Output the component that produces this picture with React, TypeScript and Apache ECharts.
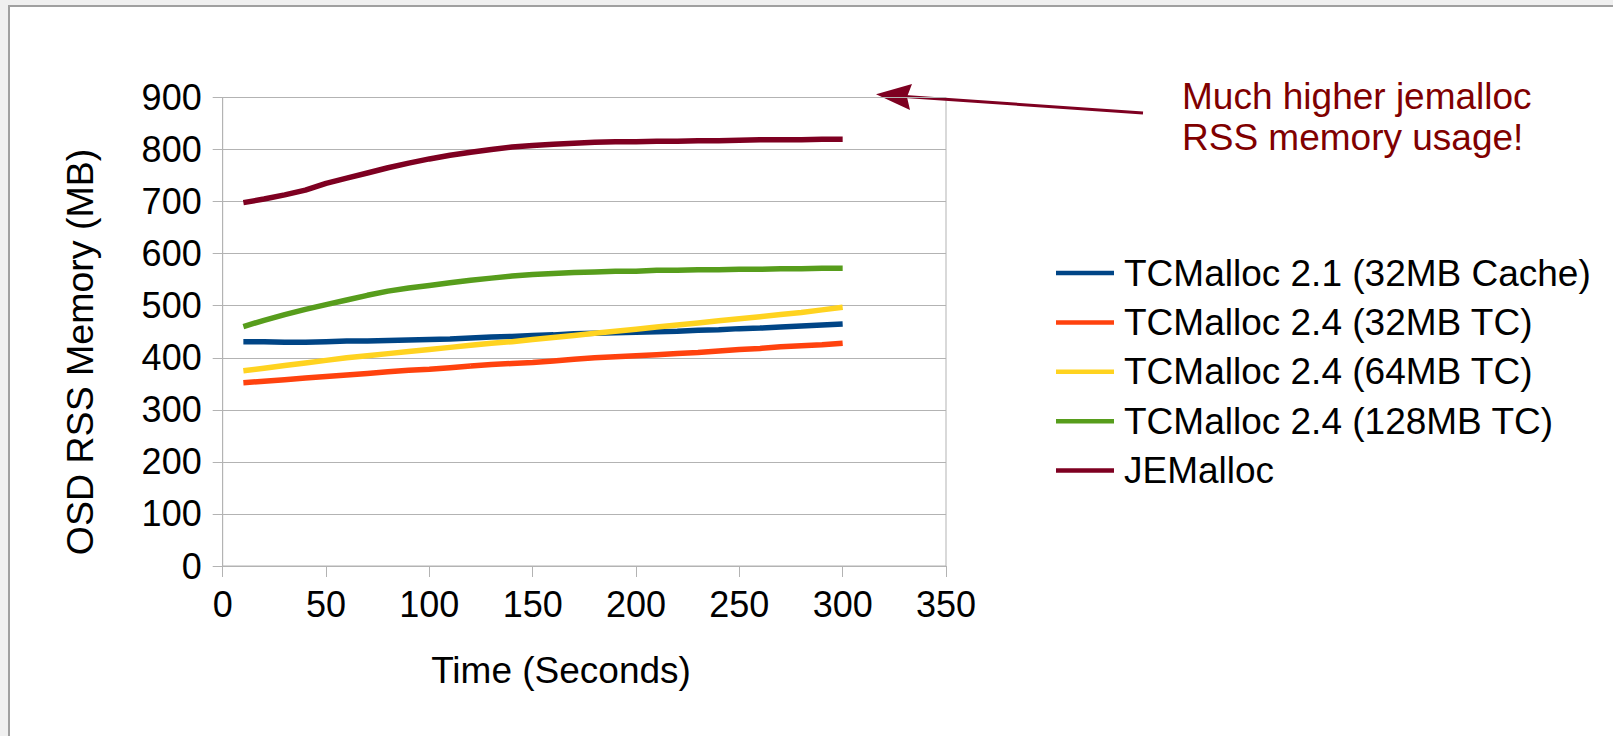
import React, { useEffect, useRef } from "react";
import * as echarts from "echarts";

const timeSeconds = [10, 20, 30, 40, 50, 60, 70, 80, 90, 100, 110, 120, 130, 140, 150, 160, 170, 180, 190, 200, 210, 220, 230, 240, 250, 260, 270, 280, 290, 300];
const tc21_32Cache = [431, 431, 430, 430, 431, 432, 432, 433, 434, 435, 436, 438, 440, 441, 443, 444, 446, 447, 448, 449, 450, 451, 453, 454, 456, 457, 459, 461, 463, 465];
const tc24_32TC = [352, 355, 358, 361, 364, 367, 370, 373, 376, 378, 381, 384, 387, 389, 391, 394, 397, 400, 402, 404, 406, 408, 410, 413, 416, 418, 421, 423, 425, 428];
const tc24_64TC = [375, 380, 385, 390, 395, 400, 404, 408, 412, 416, 420, 424, 428, 431, 435, 439, 443, 447, 451, 455, 459, 463, 467, 471, 475, 479, 483, 487, 492, 497];
const tc24_128TC = [460, 472, 483, 493, 502, 511, 520, 528, 534, 539, 544, 549, 553, 557, 560, 562, 564, 565, 566, 566, 568, 568, 569, 569, 570, 570, 571, 571, 572, 572];
const jemalloc = [698, 705, 713, 722, 735, 745, 755, 765, 774, 782, 789, 795, 800, 805, 808, 810, 812, 814, 815, 815, 816, 816, 817, 817, 818, 819, 819, 819, 820, 820];

const seriesNames = [
  "TCMalloc 2.1 (32MB Cache)",
  "TCMalloc 2.4 (32MB TC)",
  "TCMalloc 2.4 (64MB TC)",
  "TCMalloc 2.4 (128MB TC)",
  "JEMalloc",
];
const seriesValues = [tc21_32Cache, tc24_32TC, tc24_64TC, tc24_128TC, jemalloc];
const seriesColors = ["#004586", "#ff420e", "#ffd320", "#579d1c", "#7e0021"];

const xTicks = { min: 0, max: 350, interval: 50 };
const yTicks = { min: 0, max: 900, interval: 100 };

const FONT = "'Liberation Sans', Arial, sans-serif";

export default function App() {
  const ref = useRef<HTMLDivElement>(null);
  useEffect(() => {
    if (!ref.current) return;
    const chart = echarts.init(ref.current, undefined, { renderer: "svg" });
    const series = seriesNames.map((name, i) => ({
      name,
      type: "line",
      data: timeSeconds.map((t, j) => [t, seriesValues[i][j]]),
      symbol: "none",
      showSymbol: false,
      smooth: false,
      lineStyle: { color: seriesColors[i], width: 5.5 },
      itemStyle: { color: seriesColors[i] },
      z: 3,
    }));
    chart.setOption({
      animation: false,
      backgroundColor: "#f0f0f0",
      textStyle: { fontFamily: FONT },
      grid: {
        left: 222.7,
        top: 97.5,
        right: 667,
        bottom: 170,
        show: true,
        borderColor: "#b3b3b3",
        borderWidth: 1,
        backgroundColor: "transparent",
      },
      xAxis: {
        type: "value",
        min: xTicks.min,
        max: xTicks.max,
        interval: xTicks.interval,
        axisLine: { show: true, lineStyle: { color: "#b3b3b3", width: 1 } },
        axisTick: { show: true, length: 11, lineStyle: { color: "#b3b3b3" } },
        splitLine: { show: false },
        axisLabel: { fontSize: 36, color: "#000", margin: 20, fontFamily: FONT },
      },
      yAxis: {
        type: "value",
        min: yTicks.min,
        max: yTicks.max,
        interval: yTicks.interval,
        axisLine: { show: true, lineStyle: { color: "#b3b3b3", width: 1 } },
        axisTick: { show: true, length: 10, lineStyle: { color: "#b3b3b3" } },
        splitLine: { show: true, lineStyle: { color: "#b3b3b3", width: 1 } },
        axisLabel: { fontSize: 36, color: "#000", margin: 21, fontFamily: FONT },
      },
      legend: {
        orient: "vertical",
        left: 1056,
        top: 253,
        padding: 0,
        icon: "rect",
        itemWidth: 58,
        itemHeight: 4.5,
        itemGap: 9.4,
        data: seriesNames,
        textStyle: { fontSize: 37, lineHeight: 40, color: "#000", fontFamily: FONT, padding: [0, 0, 0, 5] },
      },
      graphic: [
        {
          type: "rect",
          z: -10,
          silent: true,
          shape: { x: 9, y: 6, width: 1700, height: 800 },
          style: { fill: "#ffffff", stroke: "#a0a0a0", lineWidth: 2 },
        },
        {
          type: "text",
          x: 80,
          y: 352,
          rotation: Math.PI / 2,
          style: {
            text: "OSD RSS Memory (MB)",
            fontSize: 37.5,
            fontFamily: FONT,
            fill: "#000",
            align: "center",
            verticalAlign: "middle",
          },
        },
        {
          type: "text",
          x: 561,
          y: 670,
          style: {
            text: "Time (Seconds)",
            fontSize: 37,
            fontFamily: FONT,
            fill: "#000",
            align: "center",
            verticalAlign: "middle",
          },
        },
        {
          type: "text",
          x: 1182,
          y: 96,
          style: {
            text: "Much higher jemalloc",
            fontSize: 37,
            fontFamily: FONT,
            fill: "#800000",
            align: "left",
            verticalAlign: "middle",
          },
        },
        {
          type: "text",
          x: 1182,
          y: 137,
          style: {
            text: "RSS memory usage!",
            fontSize: 37,
            fontFamily: FONT,
            fill: "#800000",
            align: "left",
            verticalAlign: "middle",
          },
        },
        {
          type: "line",
          shape: { x1: 1143, y1: 113, x2: 905, y2: 96.5 },
          style: { stroke: "#7e0021", lineWidth: 3 },
        },
        {
          type: "polygon",
          shape: { points: [[876, 94.3], [912, 84], [907, 97], [910, 110]] },
          style: { fill: "#7e0021" },
        },
      ],
      series,
    });
    return () => chart.dispose();
  }, []);
  return (
    <div
      ref={ref}
      style={{ position: "fixed", left: 0, top: 0, width: 1613, height: 736 }}
    />
  );
}
